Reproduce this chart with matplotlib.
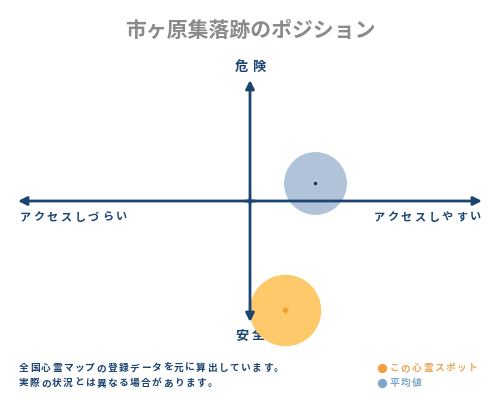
import matplotlib.pyplot as plt

plt.rcParams['font.family'] = ['Noto Sans CJK JP', 'DejaVu Sans']

title = '市ヶ原集落跡のポジション'
axis_top, axis_bottom = '危険', '安全'
axis_left, axis_right = 'アクセスしづらい', 'アクセスしやすい'
notes = ['全国心霊マップの登録データを元に算出しています。',
         '実際の状況とは異なる場合があります。']
legend_labels = ['この心霊スポット', '平均値']

# position: x = access (easy > 0), y = danger (dangerous > 0)
spot_xy = (0.15, -0.90)
avg_xy = (0.28, 0.15)

navy = '#1c4470'
orange_fill = '#fdc96b'
orange_dot = '#f0a020'
blue_fill = '#b0c3d9'
blue_leg = '#7ea6c8'

W, H = 500, 400
fig = plt.figure(figsize=(5, 4), dpi=100)
fig.patch.set_facecolor('white')

# axes spans the arrows: x 18..482 px, y 80..322 px
ax = fig.add_axes([18 / W, 1 - 322 / H, 464 / W, 242 / H])
ax.set_xlim(-1, 1)
ax.set_ylim(-1, 1)
ax.axis('off')


def spaced(x, y, s, pitch, size, ha='left', **kw):
    # letter-spaced text, positions in pixels from top-left
    n = len(s)
    if ha == 'right':
        x0 = x - n * pitch
    elif ha == 'center':
        x0 = x - n * pitch / 2
    else:
        x0 = x
    for i, ch in enumerate(s):
        ax.text((x0 + (i + 0.5) * pitch) / W, 1 - y / H, ch, ha='center', va='center',
                fontsize=size, transform=fig.transFigure, clip_on=False, **kw)


arrow = dict(arrowstyle='-|>,head_length=0.5,head_width=0.25', color=navy, lw=2,
             shrinkA=0, shrinkB=0)
ax.annotate('', xy=(1, 0), xytext=(-0.02, 0), arrowprops=arrow, zorder=4)
ax.annotate('', xy=(-1, 0), xytext=(0.02, 0), arrowprops=arrow, zorder=4)
ax.annotate('', xy=(0, 1), xytext=(0, -0.02), arrowprops=arrow, zorder=4)
ax.annotate('', xy=(0, -1), xytext=(0, 0.02), arrowprops=arrow, zorder=4,
            annotation_clip=False)

ax.scatter([avg_xy[0]], [avg_xy[1]], s=2050, color=blue_fill, zorder=3, lw=0,
           clip_on=False)
ax.scatter([avg_xy[0]], [avg_xy[1]], s=2, color='#1a2a40', zorder=5, clip_on=False)
ax.scatter([spot_xy[0]], [spot_xy[1]], s=2650, color=orange_fill, zorder=3, lw=0,
           clip_on=False)
ax.scatter([spot_xy[0]], [spot_xy[1]], s=6, color=orange_dot, marker='D', zorder=5,
           clip_on=False)

fig.text(0.5, 1 - 30 / H, title, ha='center', va='center', fontsize=15,
         fontweight='bold', color='#8a8a8a')
spaced(250, 67, axis_top, 17, 9.5, ha='center', fontweight='bold', color=navy, zorder=1)
spaced(250, 335, axis_bottom, 17, 9.5, ha='center', fontweight='bold', color=navy,
       zorder=1)
spaced(18, 217, axis_left, 13.75, 8, fontweight='bold', color=navy, zorder=1)
spaced(482, 217, axis_right, 13.75, 8, ha='right', fontweight='bold', color=navy,
       zorder=1)

for i, line in enumerate(notes):
    spaced(18, 368 + 15 * i, line, 11.1, 7, fontweight='bold', color=navy, zorder=1)

leg_colors = ['#f0a040', blue_leg]
leg_text_colors = ['#e8a858', blue_leg]
for i, (lab, c, tc) in enumerate(zip(legend_labels, leg_colors, leg_text_colors)):
    y = 368 + 15 * i
    ax.scatter([382 / W], [1 - y / H], s=45, color=c, transform=fig.transFigure,
               clip_on=False, lw=0)
    spaced(389, y, lab, 11.1, 7, fontweight='bold', color=tc, zorder=1)

fig.savefig('out.png', dpi=100, facecolor='white')
